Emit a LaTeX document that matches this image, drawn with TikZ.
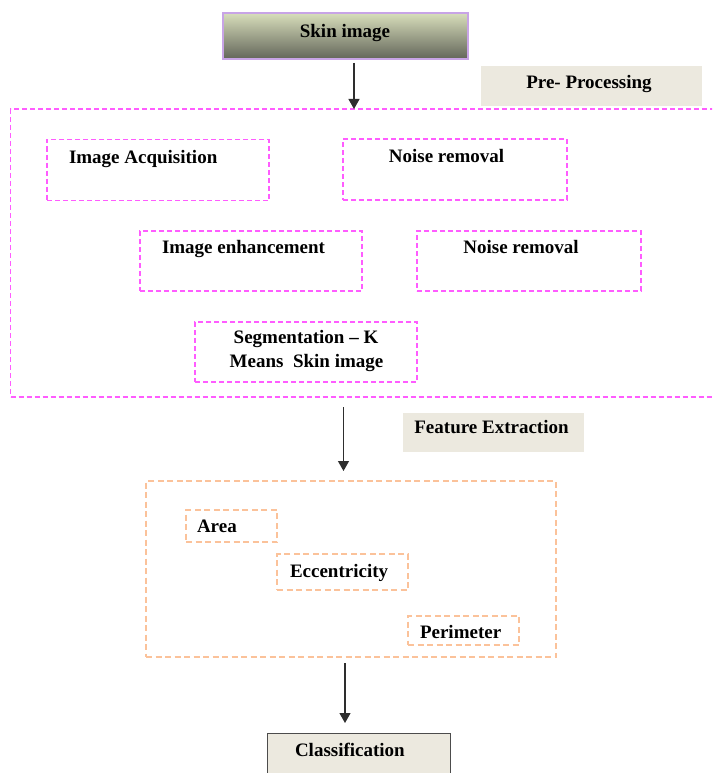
\documentclass[tikz,border=0pt]{standalone}
\usepackage{fontspec}
\setmainfont{Liberation Serif}
\usetikzlibrary{arrows.meta}
\definecolor{pinkd}{HTML}{FF5CFF}
\definecolor{orgd}{HTML}{FBC29A}
\definecolor{beige}{HTML}{ECE9DF}
\definecolor{lav}{HTML}{C8A4E6}
\definecolor{gtop}{HTML}{D8DEBB}
\definecolor{gmid}{HTML}{BCC1A3}
\definecolor{gbot}{HTML}{63665A}
\definecolor{arrc}{HTML}{2E2E2E}
\tikzset{
  txt/.style={font=\fontsize{19}{24}\selectfont\bfseries, inner sep=0pt, outer sep=0pt},
  boxbase/.style={rectangle, inner sep=0pt, outer sep=0pt},
  pbox/.style={boxbase, draw=pinkd, line width=1.4pt, dash pattern=on 5pt off 3pt},
  obox/.style={boxbase, draw=orgd, line width=1.4pt, dash pattern=on 6pt off 3.5pt},
  tagbox/.style={boxbase, fill=beige},
  skinbox/.style={boxbase, draw=lav, line width=1.5pt, top color=gtop, middle color=gmid, bottom color=gbot, shading angle=0},
  classbox/.style={boxbase, fill=beige, draw=black!70, line width=1pt},
  arr/.style={draw=arrc, line width=1.2pt, -{Triangle[width=11pt,length=10pt]}}
}
\begin{document}
\begin{tikzpicture}[x=1pt,y=-1pt]
\useasboundingbox (0,0) rectangle (712,773);
\clip (0,0) rectangle (712,773);
\fill[white] (0,0) rectangle (712,773);
% top
\node[skinbox, minimum width=245pt, minimum height=46pt] (skin) at (345.5,36) {};
\node[txt, anchor=base] (skint) at (345,37.5) {Skin image};
\node[tagbox, minimum width=221pt, minimum height=40pt] (pre) at (591.5,86) {};
\node[txt, anchor=base] (pret) at (589,89) {Pre- Processing};
% preprocessing big box
\node[pbox, minimum width=720pt, minimum height=288pt] (pp) at (370.5,253) {};
\coordinate (a1s) at (354,63);
\draw[arr] (a1s) -- (a1s |- pp.north);
\node[pbox, minimum width=222pt, minimum height=61pt] (acq) at (158,170) {};
\node[txt, anchor=base west] (acqt) at (69,163) {Image Acquisition};
\node[pbox, minimum width=224pt, minimum height=61pt] (nr1) at (455,169.5) {};
\node[txt, anchor=base] (nr1t) at (446.5,162) {Noise removal};
\node[pbox, minimum width=222pt, minimum height=60pt] (enh) at (251,261) {};
\node[txt, anchor=base west] (enht) at (162,253) {Image enhancement};
\node[pbox, minimum width=224pt, minimum height=60pt] (nr2) at (529,261) {};
\node[txt, anchor=base] (nr2t) at (521,253) {Noise removal};
\node[pbox, minimum width=222pt, minimum height=60pt] (seg) at (306,352) {};
\node[txt, anchor=base] (segt1) at (306,343) {Segmentation -- K};
\node[txt, anchor=base] (segt2) at (306.5,367) {Means~ Skin image};
% feature extraction
\node[tagbox, minimum width=181pt, minimum height=39pt] (fe) at (493.5,432.5) {};
\node[txt, anchor=base] (fet) at (491.5,433) {Feature Extraction};
\node[obox, minimum width=410pt, minimum height=176pt] (fx) at (351,569) {};
\coordinate (a2s) at (343.5,407);
\draw[arr] (a2s) -- ([yshift=10pt]a2s |- fx.north);
\node[obox, minimum width=91pt, minimum height=32pt] (area) at (231.5,526) {};
\node[txt, anchor=base west] (areat) at (197,532) {Area};
\node[obox, minimum width=131pt, minimum height=36pt] (ecc) at (342.5,572) {};
\node[txt, anchor=base west] (ecct) at (290,577) {Eccentricity};
\node[obox, minimum width=111pt, minimum height=29pt] (per) at (463.5,630.5) {};
\node[txt, anchor=base west] (pert) at (420,638) {Perimeter};
% classification
\node[classbox, minimum width=183pt, minimum height=54pt] (cls) at (358.5,760) {};
\node[txt, anchor=base west] (clst) at (295,756) {Classification};
\coordinate (a3s) at (345,663);
\draw[arr] (a3s) -- ([yshift=10pt]a3s |- cls.north);
\end{tikzpicture}
\end{document}
